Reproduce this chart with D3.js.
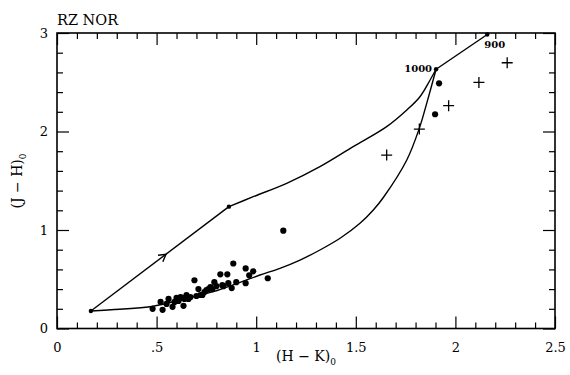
<!DOCTYPE html>
<html><head><meta charset="utf-8">
<script src="https://cdn.jsdelivr.net/npm/d3@7/dist/d3.min.js"></script>
<style>
body{margin:0;background:#fff;}
svg{display:block;}
text{font-family:"DejaVu Serif","Liberation Serif",serif;fill:#000;}
</style></head><body>
<svg id="c" width="570" height="375"></svg>
<script>
// ---- data ----
const title = "RZ NOR";
const xMajor = [0, 0.5, 1, 1.5, 2, 2.5];
const xTickLabels = ["0", ".5", "1", "1.5", "2", "2.5"];
const xMinor = [0.1,0.2,0.3,0.4,0.6,0.7,0.8,0.9,1.1,1.2,1.3,1.4,1.6,1.7,1.8,1.9,2.1,2.2,2.3,2.4];
const yMajor = [0, 1, 2, 3];
const yTickLabels = ["0", "1", "2", "3"];
const yMinor = [0.2,0.4,0.6,0.8,1.2,1.4,1.6,1.8,2.2,2.4,2.6,2.8];

// upper track: straight start→knee, curve knee→1000, straight 1000→900
const upperStraight = [[0.17,0.178],[0.863,1.237]];
const upperCurve = [[0.863,1.237],[0.985,1.338],[1.153,1.474],[1.320,1.643],[1.487,1.846],[1.655,2.049],[1.756,2.218],[1.822,2.353],[1.873,2.523],[1.903,2.632]];
const topSegment = [[1.903,2.632],[2.160,2.985]];
// lower track
const lowerCurve = [[0.17,0.178],[0.316,0.195],[0.467,0.221],[0.617,0.289],[0.785,0.374],[0.919,0.469],[1.019,0.543],[1.119,0.611],[1.220,0.695],[1.320,0.797],[1.421,0.916],[1.521,1.068],[1.588,1.203],[1.640,1.335],[1.756,1.711],[1.819,2.033],[1.856,2.286],[1.903,2.632]];
const nodePoints = [[0.17,0.178],[0.863,1.237],[1.903,2.632],[2.160,2.985]];
const arrowPoint = [0.547,0.753];
const pointLabels = [{text:"1000", x:1.903, y:2.632}, {text:"900", x:2.160, y:2.985}];

const plusX = [1.655, 1.819, 1.966, 2.118, 2.260];
const plusY = [1.761, 2.025, 2.262, 2.498, 2.698];

const dotX = [0.48,0.53,0.52,0.55,0.56,0.58,0.59,0.60,0.61,0.62,0.63,0.635,0.64,0.65,0.66,0.67,0.69,0.70,0.71,0.72,0.73,0.74,0.75,0.76,0.77,0.78,0.79,0.80,0.82,0.83,0.835,0.855,0.86,0.877,0.885,0.90,0.947,0.947,0.965,0.985,1.058,1.136,1.898,1.918];
const dotY = [0.20,0.19,0.27,0.25,0.30,0.22,0.27,0.31,0.28,0.32,0.31,0.23,0.30,0.34,0.30,0.32,0.49,0.33,0.40,0.34,0.34,0.37,0.39,0.40,0.42,0.40,0.47,0.43,0.55,0.44,0.43,0.55,0.46,0.41,0.66,0.47,0.61,0.46,0.54,0.58,0.51,0.993,2.175,2.489];

// ---- chart ----
const svg = d3.select("#c");
const x = d3.scaleLinear().domain([0,2.5]).range([57,555]);
const y = d3.scaleLinear().domain([0,3]).range([328.5,33]);
const L=57,R=555,T=33,B=328.5;

// frame
svg.append("rect").attr("x",L).attr("y",T).attr("width",R-L).attr("height",B-T)
  .attr("fill","none").attr("stroke","#000").attr("stroke-width",1.6);

function styleAxis(g){ g.select(".domain").remove(); g.selectAll("line").attr("stroke","#000").attr("stroke-width",1.2); }

// bottom
svg.append("g").attr("transform",`translate(0,${B})`)
  .call(d3.axisBottom(x).tickValues(xMajor).tickSize(-12).tickPadding(14).tickFormat((d,i)=>xTickLabels[i]))
  .call(styleAxis).call(g=>g.selectAll("text").attr("font-size",13).attr("font-family","DejaVu Serif"));
svg.append("g").attr("transform",`translate(0,${B})`)
  .call(d3.axisBottom(x).tickValues(xMinor).tickSize(-6).tickFormat("")).call(styleAxis);
// top
svg.append("g").attr("transform",`translate(0,${T})`)
  .call(d3.axisTop(x).tickValues(xMajor).tickSize(-12).tickFormat("")).call(styleAxis);
svg.append("g").attr("transform",`translate(0,${T})`)
  .call(d3.axisTop(x).tickValues(xMinor).tickSize(-6).tickFormat("")).call(styleAxis);
// left
svg.append("g").attr("transform",`translate(${L},0)`)
  .call(d3.axisLeft(y).tickValues(yMajor).tickSize(-12).tickPadding(9).tickFormat((d,i)=>yTickLabels[i]))
  .call(styleAxis).call(g=>g.selectAll("text").attr("font-size",13).attr("font-family","DejaVu Serif"));
svg.append("g").attr("transform",`translate(${L},0)`)
  .call(d3.axisLeft(y).tickValues(yMinor).tickSize(-6).tickFormat("")).call(styleAxis);
// right
svg.append("g").attr("transform",`translate(${R},0)`)
  .call(d3.axisRight(y).tickValues(yMajor).tickSize(-12).tickFormat("")).call(styleAxis);
svg.append("g").attr("transform",`translate(${R},0)`)
  .call(d3.axisRight(y).tickValues(yMinor).tickSize(-6).tickFormat("")).call(styleAxis);

// axis labels
const xl = svg.append("text").attr("x",306).attr("y",361).attr("text-anchor","middle").attr("font-size",14);
xl.append("tspan").text("(H − K)");
xl.append("tspan").attr("font-size",9).attr("dy",4).text("0");
const yl = svg.append("text").attr("transform","translate(22,181) rotate(-90)").attr("text-anchor","middle").attr("font-size",14);
yl.append("tspan").text("(J − H)");
yl.append("tspan").attr("font-size",9).attr("dy",4).text("0");

// title
svg.append("text").attr("x",57).attr("y",25).attr("font-size",14.5).attr("font-family","Liberation Serif").text(title);

// tracks
const lineL = d3.line().x(d=>x(d[0])).y(d=>y(d[1]));
const lineC = d3.line().x(d=>x(d[0])).y(d=>y(d[1])).curve(d3.curveCatmullRom.alpha(0.5));
const trackG = svg.append("g").attr("fill","none").attr("stroke","#000").attr("stroke-width",1.4);
trackG.append("path").attr("d",lineL(upperStraight));
trackG.append("path").attr("d",lineC(upperCurve));
trackG.append("path").attr("d",lineL(topSegment));
trackG.append("path").attr("d",lineC(lowerCurve));

// arrowhead (open chevron) along upper straight segment
{
  const ang = Math.atan2(y(upperStraight[1][1])-y(upperStraight[0][1]), x(upperStraight[1][0])-x(upperStraight[0][0]));
  const tx = x(arrowPoint[0]), ty = y(arrowPoint[1]);
  const len = 8, spread = Math.PI/6;
  const p1 = [tx - len*Math.cos(ang-spread), ty - len*Math.sin(ang-spread)];
  const p2 = [tx - len*Math.cos(ang+spread), ty - len*Math.sin(ang+spread)];
  trackG.append("path").attr("d",`M${p1[0]},${p1[1]}L${tx},${ty}L${p2[0]},${p2[1]}`);
}

// node dots
svg.append("g").selectAll("circle").data(nodePoints).join("circle")
  .attr("cx",d=>x(d[0])).attr("cy",d=>y(d[1])).attr("r",2.2).attr("fill","#000");

// node labels
svg.append("text").attr("x",x(pointLabels[0].x)-4).attr("y",y(pointLabels[0].y)+3)
  .attr("text-anchor","end").attr("font-size",10).attr("font-weight","bold").attr("font-family","DejaVu Sans").text(pointLabels[0].text);
svg.append("text").attr("x",x(pointLabels[1].x)-3).attr("y",y(pointLabels[1].y)+14)
  .attr("text-anchor","start").attr("font-size",10).attr("font-weight","bold").attr("font-family","DejaVu Sans").text(pointLabels[1].text);

// plus markers
const s = 5.5;
svg.append("g").attr("stroke","#000").attr("stroke-width",1.3).selectAll("path").data(plusX.map((v,i)=>[v,plusY[i]])).join("path")
  .attr("d",d=>{const cx=x(d[0]),cy=y(d[1]);return `M${cx-s},${cy}H${cx+s}M${cx},${cy-s}V${cy+s}`;});

// data dots
svg.append("g").selectAll("circle").data(dotX.map((v,i)=>[v,dotY[i]])).join("circle")
  .attr("cx",d=>x(d[0])).attr("cy",d=>y(d[1])).attr("r",3.1).attr("fill","#000");
</script>
</body></html>
